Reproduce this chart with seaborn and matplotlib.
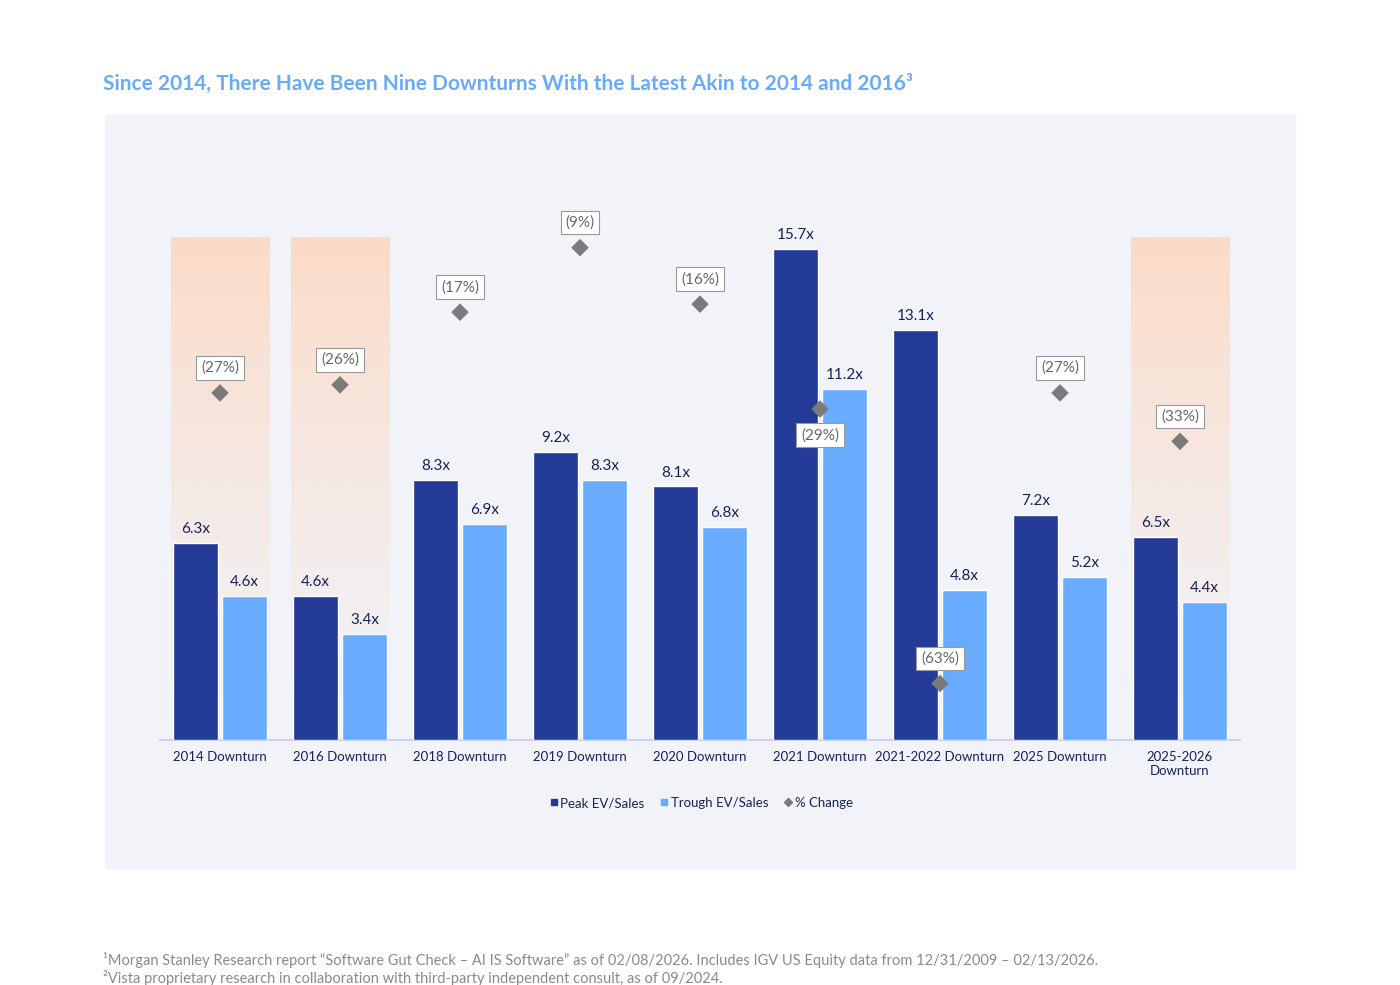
import matplotlib
matplotlib.use("Agg")
import matplotlib.pyplot as plt
import seaborn as sns
import pandas as pd
import numpy as np
from matplotlib.patches import Rectangle
from matplotlib.lines import Line2D

categories = ["2014 Downturn", "2016 Downturn", "2018 Downturn", "2019 Downturn", "2020 Downturn",
              "2021 Downturn", "2021-2022 Downturn", "2025 Downturn", "2025-2026\nDownturn"]
peak = [6.3, 4.6, 8.3, 9.2, 8.1, 15.7, 13.1, 7.2, 6.5]
trough = [4.6, 3.4, 6.9, 8.3, 6.8, 11.2, 4.8, 5.2, 4.4]
pct_change = [-27, -26, -17, -9, -16, -29, -63, -27, -33]
highlight = [0, 1, 8]

sns.set_theme(style="white")
plt.rcParams['font.family'] = ['Lato', 'DejaVu Sans']

PANEL = "#f1f3f9"
DARK = "#243a97"
LIGHT = "#69abff"
GRAY = "#7a7a7a"

fig = plt.figure(figsize=(14, 9.85), dpi=100)
fig.patches.append(Rectangle((105/1400, 1-868/985), 1190/1400, 753/985,
                             transform=fig.transFigure, color=PANEL, zorder=-10))
ax = fig.add_axes([160/1400, 1-740/985, 1080/1400, 565/985])
ax.set_zorder(2)
ax.set_facecolor(PANEL)

df = pd.DataFrame({
    "cat": categories * 2,
    "val": peak + trough,
    "series": ["Peak EV/Sales"] * len(categories) + ["Trough EV/Sales"] * len(categories),
})
sns.barplot(data=df, x="cat", y="val", hue="series", palette=[DARK, LIGHT],
            width=0.82, gap=0.08, ax=ax, legend=False, zorder=3, saturation=1)
for c in ax.containers:
    ax.bar_label(c, labels=[f"{v:.1f}x" for v in c.datavalues], padding=5,
                 fontsize=11, color="#1a2255")

grad = np.zeros((256, 1, 4))
peach = np.array([252, 219, 198]) / 255
grad[:, 0, :3] = peach
grad[:, 0, 3] = np.linspace(1, 0, 256) ** 1.3
for i in highlight:
    ax.imshow(grad, extent=(i - 0.41, i + 0.41, 0, 16.04), aspect="auto",
              zorder=1, interpolation="bicubic")

ax.set_xlim(-0.5, len(categories) - 0.5)
ax.set_ylim(0, 18.05)
ax.set_yticks([])
ax.set_xlabel("")
ax.set_ylabel("")
for s in ["top", "right", "left"]:
    ax.spines[s].set_visible(False)
ax.spines["bottom"].set_color("#c8cce8")
ax.tick_params(axis="x", length=0, labelsize=9.5, colors="#1a2255", pad=8)

ax2 = ax.twinx()
ax2.set_zorder(3)
ax2.set_ylim(-70, 0)
ax2.axis("off")
sns.scatterplot(x=np.arange(len(categories)), y=pct_change, marker="D", s=80,
                color=GRAY, edgecolor="none", ax=ax2, zorder=5)
ax2.set_xlim(-0.5, len(categories) - 0.5)
ax2.set_ylim(-70, 0)
for i, p in enumerate(pct_change):
    off = -26 if i == 5 else 25
    ax2.annotate(f"({abs(p)}%)", (i, p), xytext=(0, off), textcoords="offset pixels",
                 ha="center", va="center", fontsize=11, color="#666666",
                 bbox=dict(boxstyle="square,pad=0.3", fc="white", ec="#999999", lw=0.8),
                 zorder=6)

handles = [Line2D([], [], marker="s", ls="", color=DARK, markersize=5),
           Line2D([], [], marker="s", ls="", color=LIGHT, markersize=5),
           Line2D([], [], marker="D", ls="", color=GRAY, markersize=4)]
fig.legend(handles, ["Peak EV/Sales", "Trough EV/Sales", "% Change"], loc="center",
           bbox_to_anchor=(700/1400, 1-803/985), ncol=3, frameon=False, fontsize=9.5,
           handletextpad=0.0, handlelength=1.0, columnspacing=1.0, labelcolor="#1a2255")

fig.text(103/1400, 1-84/985, "Since 2014, There Have Been Nine Downturns With the Latest Akin to 2014 and 2016³",
         fontsize=15, fontweight="bold", color="#6aaafa", va="center")
fig.text(103/1400, 1-960/985, "¹Morgan Stanley Research report \u201cSoftware Gut Check \u2013 AI IS Software\u201d as of 02/08/2026. Includes IGV US Equity data from 12/31/2009 \u2013 02/13/2026.",
         fontsize=10.5, color="#8a8a8a", va="center")
fig.text(103/1400, 1-978/985, "²Vista proprietary research in collaboration with third-party independent consult, as of 09/2024.",
         fontsize=10.5, color="#8a8a8a", va="center")

fig.savefig("out.png", dpi=100, facecolor="white")
